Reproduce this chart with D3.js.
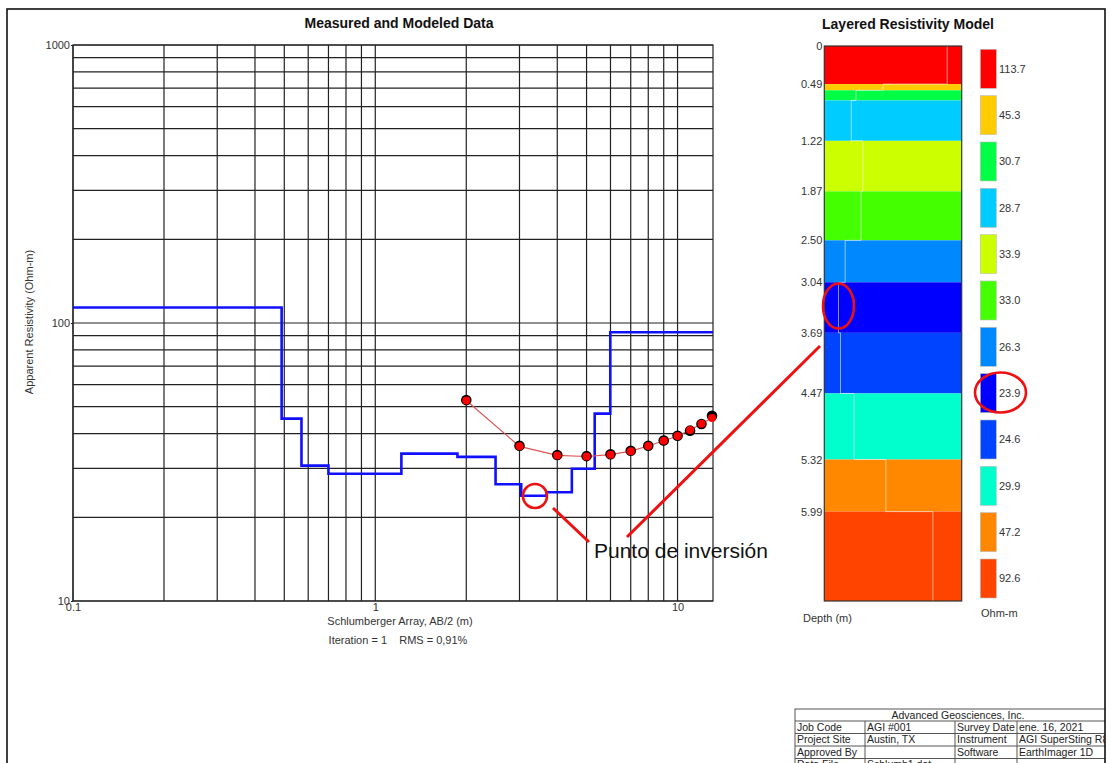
<!DOCTYPE html>
<html><head><meta charset="utf-8">
<script src="https://cdn.jsdelivr.net/npm/d3@7"></script>
<style>
html,body{margin:0;padding:0;background:#fff;}
svg{display:block;font-family:"Liberation Sans",Arial,sans-serif;}
</style></head>
<body>
<svg id="chart" width="1111" height="763"></svg>
<script>
// ---------- data ----------
const abHalf = [2, 3, 4, 5, 6, 7, 8, 9, 10, 11, 12, 13];
const measured = [52.8, 36.2, 33.5, 33.2, 33.7, 34.7, 36.2, 37.8, 39.3, 41.0, 43.3, 46.4];
const modeled  = [52.6, 36.0, 33.4, 33.1, 33.6, 34.6, 36.1, 37.7, 39.2, 41.2, 43.4, 45.5];
const layerRes = [113.7, 45.3, 30.7, 28.7, 33.9, 33.0, 26.3, 23.9, 24.6, 29.9, 47.2, 92.6];
const layerTop = [0, 0.49, 0.57, 0.70, 1.22, 1.87, 2.50, 3.04, 3.69, 4.47, 5.32, 5.99];
const layerColors = ["#ff0000", "#ffcc00", "#00ff44", "#00ccff", "#ccff00", "#44ff00",
                     "#0088ff", "#0000ff", "#0044ff", "#00ffcc", "#ff8800", "#ff4400"];
const depthTickValues = [0, 0.49, 1.22, 1.87, 2.50, 3.04, 3.69, 4.47, 5.32, 5.99];
const depthTickLabels = ["0", "0.49", "1.22", "1.87", "2.50", "3.04", "3.69", "4.47", "5.32", "5.99"];
const xTickValues = [0.1, 1, 10];
const xTickLabels = ["0.1", "1", "10"];
const yTickValues = [10, 100, 1000];
const yTickLabels = ["10", "100", "1000"];
const tableHeader = "Advanced Geosciences, Inc.";
const tableRows = [
  ["Job Code", "AGI #001", "Survey Date", "ene. 16, 2021"],
  ["Project Site", "Austin, TX", "Instrument", "AGI SuperSting R8"],
  ["Approved By", "", "Software", "EarthImager 1D"],
  ["Data File", "Schlumb1.dat", "", ""]
];

// ---------- setup ----------
const svg = d3.select("#chart");
const defs = svg.append("defs");
defs.append("clipPath").attr("id", "pageclip")
  .append("rect").attr("x", 0).attr("y", 0).attr("width", 1105).attr("height", 763);

// ---------- left chart ----------
const x = d3.scaleLog().domain([0.1, 13.1]).range([73, 713]);
const y = d3.scaleLog().domain([10, 1000]).range([601, 45]);

const grid = svg.append("g");
grid.selectAll("line.v").data(x.ticks()).join("line")
  .attr("x1", d => x(d)).attr("x2", d => x(d))
  .attr("y1", y(1000)).attr("y2", y(10))
  .attr("stroke", "#222").attr("stroke-width", 1.2);
grid.selectAll("line.h").data(y.ticks()).join("line")
  .attr("x1", x(0.1)).attr("x2", x(13.1))
  .attr("y1", d => y(d)).attr("y2", d => y(d))
  .attr("stroke", "#222").attr("stroke-width", 1.2);
grid.append("rect").attr("x", x(0.1)).attr("y", y(1000))
  .attr("width", x(13.1) - x(0.1)).attr("height", y(10) - y(1000))
  .attr("fill", "none").attr("stroke", "#222").attr("stroke-width", 1.2);

// axes labels
const yAx = svg.append("g").attr("transform", `translate(${x(0.1)},0)`)
  .call(d3.axisLeft(y).tickValues(yTickValues).tickFormat((d, i) => yTickLabels[i]).tickSize(2).tickPadding(1));
yAx.select(".domain").remove();
yAx.selectAll("text").attr("font-size", 11).attr("fill", "#333").attr("font-family", "Liberation Sans, Arial, sans-serif");
yAx.selectAll("line").attr("stroke", "#222");

const xAx = svg.append("g").attr("transform", `translate(0,${y(10)})`)
  .call(d3.axisBottom(x).tickValues(xTickValues).tickFormat((d, i) => xTickLabels[i]).tickSize(0).tickPadding(2));
xAx.select(".domain").remove();
xAx.selectAll("text").attr("font-size", 11).attr("fill", "#333").attr("font-family", "Liberation Sans, Arial, sans-serif");

svg.append("text").attr("x", 399).attr("y", 28).attr("text-anchor", "middle")
  .attr("font-size", 14).attr("font-weight", "bold").attr("fill", "#111").text("Measured and Modeled Data");
svg.append("text").attr("transform", "translate(33,322) rotate(-90)").attr("text-anchor", "middle")
  .attr("font-size", 11).attr("fill", "#333").text("Apparent Resistivity (Ohm-m)");
svg.append("text").attr("x", 400).attr("y", 625).attr("text-anchor", "middle")
  .attr("font-size", 11).attr("fill", "#333").text("Schlumberger Array, AB/2 (m)");
svg.append("text").attr("x", 398).attr("y", 644).attr("text-anchor", "middle")
  .attr("font-size", 11).attr("fill", "#333").attr("xml:space", "preserve").text("Iteration = 1    RMS = 0,91%");

// blue step model
const stepPts = layerTop.map((t, i) => [Math.max(t, 0.1), layerRes[i]]);
stepPts.push([13.1, layerRes[layerRes.length - 1]]);
svg.append("path").datum(stepPts)
  .attr("d", d3.line().x(d => x(d[0])).y(d => y(d[1])).curve(d3.curveStepAfter))
  .attr("fill", "none").attr("stroke", "#1010ff").attr("stroke-width", 2.6);

// modeled line
const modPts = abHalf.map((a, i) => [a, modeled[i]]);
const measPts = abHalf.map((a, i) => [a, measured[i]]);
svg.append("path").datum(modPts)
  .attr("d", d3.line().x(d => x(d[0])).y(d => y(d[1])))
  .attr("fill", "none").attr("stroke", "#e05555").attr("stroke-width", 1.2);
svg.selectAll("circle.meas").data(measPts).join("circle")
  .attr("cx", d => x(d[0])).attr("cy", d => y(d[1])).attr("r", 5.3).attr("fill", "#000");
svg.selectAll("circle.mod").data(modPts).join("circle")
  .attr("cx", d => x(d[0])).attr("cy", d => y(d[1])).attr("r", 4).attr("fill", "#ff0000");

// ---------- layered model ----------
const colL = 824.3, colR = 961.7;
const dY = d3.scaleLinear().domain([0, 7.14]).range([46, 601]);
const layerBottom = layerTop.slice(1).concat([7.14]);
svg.append("g").selectAll("rect").data(layerRes).join("rect")
  .attr("x", colL).attr("width", colR - colL)
  .attr("y", (d, i) => dY(layerTop[i]))
  .attr("height", (d, i) => dY(layerBottom[i]) - dY(layerTop[i]))
  .attr("fill", (d, i) => layerColors[i]);

// white resistivity trace inside column (log scale across width)
const xr = d3.scaleLog().domain([19.5, 140]).range([colL, colR]);
const tracePts = [];
layerRes.forEach((r, i) => { tracePts.push([xr(r), dY(layerTop[i])]); tracePts.push([xr(r), dY(layerBottom[i])]); });
svg.append("path").datum(tracePts)
  .attr("d", d3.line())
  .attr("fill", "none").attr("stroke", "#ffffff").attr("stroke-opacity", 0.55).attr("stroke-width", 1);

svg.append("rect").attr("x", colL).attr("y", dY(0)).attr("width", colR - colL).attr("height", dY(7.14) - dY(0))
  .attr("fill", "none").attr("stroke", "#333").attr("stroke-width", 1.2);

const dAx = svg.append("g").attr("transform", `translate(${colL},0)`)
  .call(d3.axisLeft(dY).tickValues(depthTickValues).tickFormat((d, i) => depthTickLabels[i]).tickSize(0).tickPadding(2));
dAx.select(".domain").remove();
dAx.selectAll("text").attr("font-size", 11).attr("fill", "#333").attr("font-family", "Liberation Sans, Arial, sans-serif");

svg.append("text").attr("x", 908).attr("y", 29).attr("text-anchor", "middle")
  .attr("font-size", 14).attr("font-weight", "bold").attr("fill", "#111").text("Layered Resistivity Model");
svg.append("text").attr("x", 803).attr("y", 622).attr("font-size", 11).attr("fill", "#333").text("Depth (m)");
svg.append("text").attr("x", 981).attr("y", 617).attr("font-size", 11).attr("fill", "#333").text("Ohm-m");

// legend
const legY = d3.scaleLinear().domain([0, 11]).range([49.3, 559]);
const leg = svg.append("g");
leg.selectAll("rect").data(layerRes).join("rect")
  .attr("x", 980.3).attr("width", 16).attr("y", (d, i) => legY(i)).attr("height", 39)
  .attr("fill", (d, i) => layerColors[i]).attr("stroke", "#bbb").attr("stroke-width", 0.6);
leg.selectAll("text").data(layerRes).join("text")
  .attr("x", 999).attr("y", (d, i) => legY(i) + 19.5).attr("dy", "0.35em")
  .attr("font-size", 11).attr("fill", "#333").text(d => d.toFixed(1));

// ---------- annotations ----------
const ann = svg.append("g").attr("fill", "none").attr("stroke", "#ee1111");
ann.append("circle").attr("cx", 535).attr("cy", 496).attr("r", 12).attr("stroke-width", 2.6);
ann.append("ellipse").attr("cx", 838.5).attr("cy", 306).attr("rx", 15.5).attr("ry", 22.5).attr("stroke-width", 2.6);
ann.append("ellipse").attr("cx", 1000.5).attr("cy", 392.5).attr("rx", 25.5).attr("ry", 20).attr("stroke-width", 2.6);
ann.append("line").attr("x1", 553).attr("y1", 508).attr("x2", 589).attr("y2", 542).attr("stroke-width", 3);
ann.append("line").attr("x1", 627).attr("y1", 537).attr("x2", 820).attr("y2", 346).attr("stroke-width", 3);
svg.append("text").attr("x", 594).attr("y", 558).attr("font-size", 21).attr("fill", "#111")
  .attr("font-family", "Liberation Sans, Arial, sans-serif").text("Punto de inversión");

// ---------- table ----------
const tbl = svg.append("g").attr("clip-path", "url(#pageclip)");
const colX = [795, 865, 955, 1017, 1160];
const rowY = [709, 721, 733.5, 746, 758.5, 771];
tbl.append("rect").attr("x", colX[0]).attr("y", rowY[0]).attr("width", colX[4] - colX[0]).attr("height", rowY[5] - rowY[0])
  .attr("fill", "#fff").attr("stroke", "#555").attr("stroke-width", 1);
rowY.slice(1, 5).forEach(yy => tbl.append("line").attr("x1", colX[0]).attr("x2", colX[4]).attr("y1", yy).attr("y2", yy)
  .attr("stroke", "#555").attr("stroke-width", 1));
colX.slice(1, 4).forEach(xx => tbl.append("line").attr("x1", xx).attr("x2", xx).attr("y1", rowY[1]).attr("y2", rowY[5])
  .attr("stroke", "#555").attr("stroke-width", 1));
tbl.append("text").attr("x", 958).attr("y", rowY[0] + 9.5).attr("text-anchor", "middle")
  .attr("font-size", 10.5).attr("fill", "#222").text(tableHeader);
tableRows.forEach((row, ri) => row.forEach((cell, ci) => {
  tbl.append("text").attr("x", colX[ci] + 2).attr("y", rowY[ri + 1] + 9.5)
    .attr("font-size", 10.5).attr("textLength", null).attr("fill", "#222").text(cell);
}));

// page border
svg.append("rect").attr("x", 7).attr("y", 9).attr("width", 1098).attr("height", 800)
  .attr("fill", "none").attr("stroke", "#111").attr("stroke-width", 1.6);
</script>
</body></html>
